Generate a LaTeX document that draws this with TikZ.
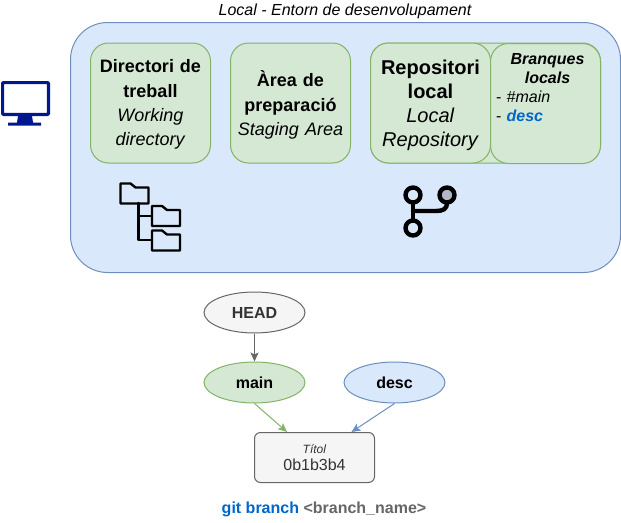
\documentclass[tikz,border=0pt]{standalone}
\usepackage{fontspec}
\setmainfont{Liberation Sans}
\usetikzlibrary{arrows.meta}
\usetikzlibrary{positioning}
\usetikzlibrary{shapes.geometric}

\definecolor{panelblue}{HTML}{DAE8FC}
\definecolor{panelline}{HTML}{6C8EBF}
\definecolor{boxgreen}{HTML}{D5E8D4}
\definecolor{boxline}{HTML}{82B366}
\definecolor{greyfill}{HTML}{F5F5F5}
\definecolor{greyline}{HTML}{666666}
\definecolor{greytext}{HTML}{333333}
\definecolor{descblue}{HTML}{0066CC}
\definecolor{screenblue}{HTML}{00188D}
\definecolor{dotgrey}{HTML}{B0B8C8}

\tikzset{
  areabox/.style={draw=boxline, fill=boxgreen, rounded corners=18pt, line width=1pt,
    minimum width=120pt, minimum height=120pt, inner sep=0pt, align=center, text width=116pt,
    font=\fontsize{18}{24.4}\selectfont},
  lowered/.style={execute at begin node=\rule{0pt}{#1}},
  oval/.style={ellipse, line width=1pt, minimum width=101pt, minimum height=41pt, inner sep=0pt,
    font=\fontsize{16}{19}\selectfont\bfseries},
  iconline/.style={line width=2.4pt, line join=round, line cap=round},
  gitline/.style={line width=4.4pt, line cap=round},
  pointer/.style={->, line width=1pt}
}

\begin{document}
\begin{tikzpicture}[x=1pt, y=-1pt, >={Stealth[length=9pt, width=8pt, inset=2pt]}]
  \useasboundingbox (0, 0) rectangle (621, 522);

  \node[draw=panelline, fill=panelblue, rounded corners=37pt, line width=1pt, minimum width=550pt, minimum height=250pt] at (345.5, 147.5) (panel) {};
  \node[font=\fontsize{16}{19}\selectfont\itshape] at (345, 11.5) (paneltitle) {Local - Entorn de desenvolupament};

  % the three areas
  \node[areabox, lowered=16.4pt] at (150.5, 103) (workdir) {\textbf{Directori de}\\\textbf{treball}\\\textit{Working}\\\textit{directory}};
  \node[areabox, lowered=20pt] at (290.5, 103) (staging) {\textbf{Àrea de}\\\textbf{preparació}\\\textit{Staging Area}};
  \node[areabox, minimum width=230pt, text width=226pt] at (485.5, 103) (repoback) {};
  \node[areabox, lowered=18.5pt, font=\fontsize{20}{24}\selectfont] at (430.5, 103) (repo) {\textbf{Repositori}\\\textbf{local}\\\textit{Local}\\\textit{Repository}};
  \node[areabox, anchor=north, minimum width=110pt, text width=99pt, font=\fontsize{16}{19.3}\selectfont, align=left, text depth=90pt] at (545.5, 43) (branques) {\makebox[103pt][c]{\textbf{\textit{Branques}}}\\\makebox[103pt][c]{\textbf{\textit{locals}}}\\- \textit{\#main}\\- \textcolor{descblue}{\textbf{\textit{desc}}}};

  % monitor
  \begin{scope}
    \draw[screenblue, fill=white, line width=3.2pt, rounded corners=1pt] (2.6, 82.6) rectangle (48.4, 114.4);
    \fill[screenblue] (18, 116) -- (32, 116) -- (33, 122.5) -- (41, 122.5) -- (41, 125.5) -- (8, 125.5) -- (8, 122.5) -- (17, 122.5) -- cycle;
  \end{scope}

  % folder tree
  \begin{scope}
    \draw[iconline] (138.5, 203) -- (138.5, 240) -- (152, 240);
    \draw[iconline] (138.5, 216) -- (152, 216);
    \foreach \fx/\fy in {120.5/183.5, 152/206, 152/230.5} {
      \draw[iconline] (\fx, \fy) -- (\fx + 10, \fy) -- (\fx + 15, \fy + 4) -- (\fx + 28, \fy + 4) -- (\fx + 28, \fy + 20) -- (\fx, \fy + 20) -- cycle;
    }
  \end{scope}

  % git branch sign
  \begin{scope}
    \draw[gitline] (413, 203) -- (413, 220);
    \draw[gitline] (413, 211) -- (436, 211) .. controls (443, 211) and (447, 209) .. (447, 203);
    \draw[line width=4.4pt] (413, 195) circle (7.5);
    \draw[line width=4.4pt, fill=dotgrey] (447, 195) circle (7.5);
    \draw[line width=4.4pt] (413, 228) circle (7.5);
  \end{scope}

  % pointers
  \node[oval, draw=greyline, fill=greyfill, text=greytext] at (254.5, 312.5) (head) {HEAD};
  \node[oval, draw=boxline, fill=boxgreen] at (254.5, 382.5) (main) {main};
  \node[oval, draw=panelline, fill=panelblue] at (394.5, 382.5) (desc) {desc};
  \node[draw=greyline, fill=greyfill, text=greytext, rounded corners=6pt, line width=1pt, minimum width=120pt, minimum height=50pt, inner sep=0pt, align=center] at (314.5, 457.5) (titol) {\fontsize{12}{14}\selectfont\textit{Títol}\\[5pt]\fontsize{16}{19}\selectfont 0b1b3b4};

  \draw[pointer, greyline] (head) -- (main);
  \draw[pointer, boxline] (main.south) -- ([xshift=-27.5pt]titol.north);
  \draw[pointer, panelline] (desc.south) -- ([xshift=37pt]titol.north);

  \node[font=\fontsize{16}{19}\selectfont\bfseries, text=greyline] at (324, 509) (command) {\textcolor{descblue}{git branch} <branch\_name>};
\end{tikzpicture}
\end{document}
